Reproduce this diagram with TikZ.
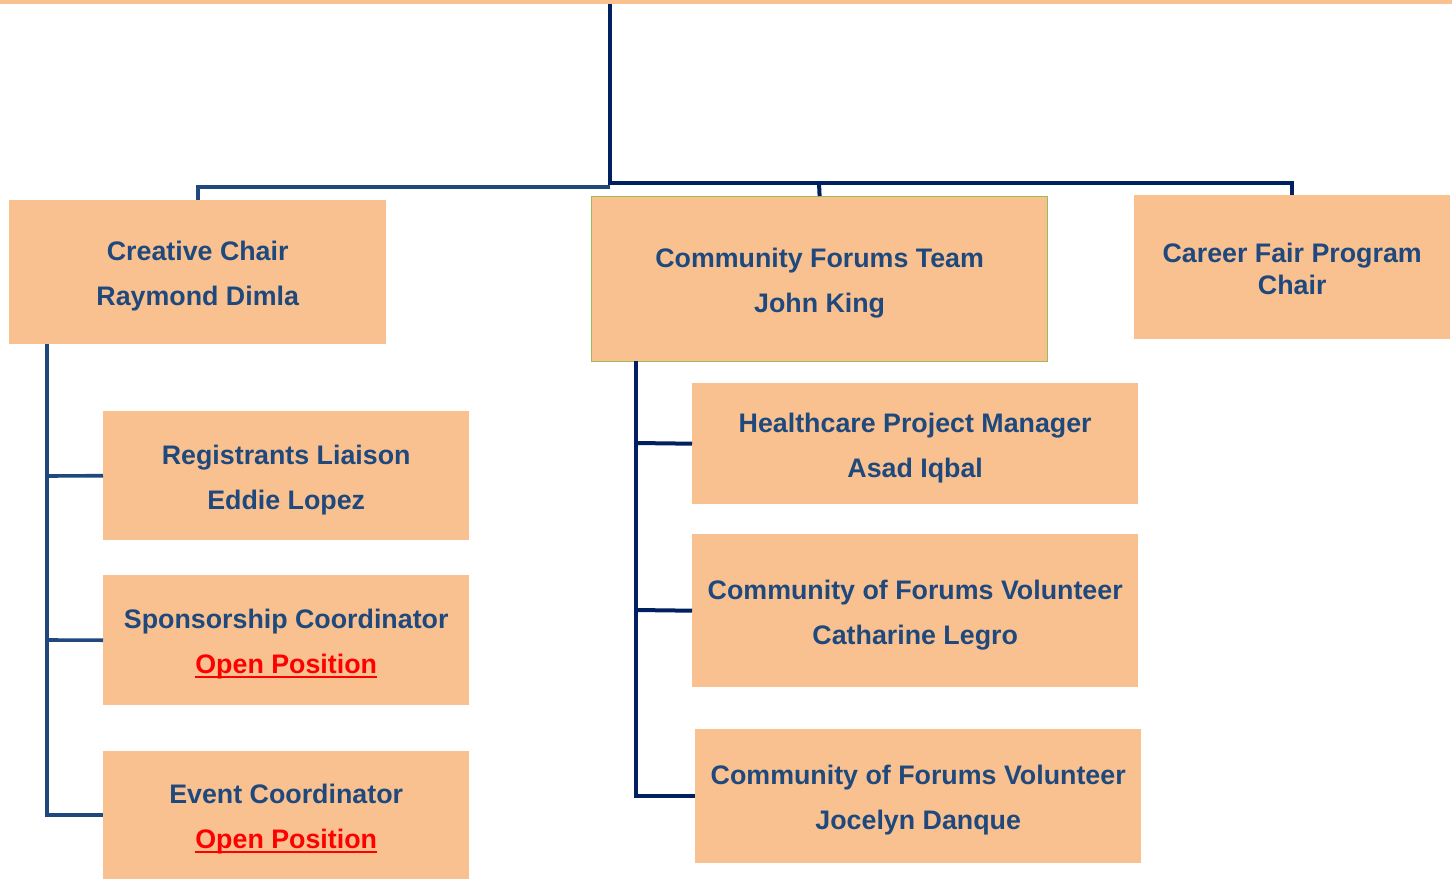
\documentclass[tikz,border=0pt]{standalone}
\usepackage{fontspec}
\setmainfont{Liberation Sans}
\definecolor{boxfill}{HTML}{F9C190}
\definecolor{txtblue}{HTML}{1F497D}
\definecolor{navy}{HTML}{002060}
\definecolor{lineblue}{HTML}{1F497D}
\definecolor{grborder}{HTML}{9BBB59}
\definecolor{openred}{HTML}{FF0000}
\newsavebox\opbox
\newcommand\openpos{\sbox\opbox{\color{openred}Open Position}{\color{openred}\rlap{\rule[-4pt]{\wd\opbox}{1.8pt}}}\usebox\opbox}
\newcommand\topstr{\rule{0pt}{28pt}}
\begin{document}
\begin{tikzpicture}[x=1pt,y=-1pt,
  orgbox/.style={fill=boxfill, draw=none, anchor=north west, inner sep=0pt,
    align=center, text=txtblue, font=\fontsize{26.8}{45}\selectfont\bfseries},
  navyline/.style={draw=navy, line width=4pt},
  blueline/.style={draw=lineblue, line width=3.6pt}]
\useasboundingbox (0,0) rectangle (1452,879);
\fill[boxfill] (0,0) rectangle (1452,4);
% top-level boxes
\node[orgbox, minimum width=377pt, minimum height=144pt] (cc) at (9,200) {\topstr Creative Chair\\Raymond Dimla};
\node[orgbox, draw=grborder, line width=1.2pt, minimum width=456pt, minimum height=165pt] (cft) at (591,196) {\topstr Community Forums Team\\John King};
\node[orgbox, minimum width=316pt, minimum height=144pt, font=\fontsize{26.8}{32}\selectfont\bfseries] (cfp) at (1134,195) {\rule{0pt}{22pt}Career Fair Program\\Chair};
% left children
\node[orgbox, minimum width=366pt, minimum height=129pt] (rl) at (103,411) {\topstr Registrants Liaison\\Eddie Lopez};
\node[orgbox, minimum width=366pt, minimum height=130pt] (sc) at (103,575) {\topstr Sponsorship Coordinator\\\openpos};
\node[orgbox, minimum width=366pt, minimum height=128pt] (ec) at (103,751) {\topstr Event Coordinator\\\openpos};
% right children
\node[orgbox, minimum width=446pt, minimum height=121pt] (hpm) at (692,383) {\topstr Healthcare Project Manager\\Asad Iqbal};
\node[orgbox, minimum width=446pt, minimum height=153pt] (v1) at (692,534) {\topstr Community of Forums Volunteer\\Catharine Legro};
\node[orgbox, minimum width=446pt, minimum height=134pt] (v2) at (695,729) {\topstr Community of Forums Volunteer\\Jocelyn Danque};
% top connectors
\coordinate (top) at (610,4);
\draw[navyline] (top) -- (610,183) -| (cfp.north);
\draw[navyline] (819,183) -- (cft.north);
\draw[blueline] (610,187) -| (cc.north);
% left tree
\draw[blueline] (47,344) |- (ec.west);
\draw[blueline] (47,476) -- (rl.west);
\draw[blueline] (47,640) -- (sc.west);
% right tree
\draw[navyline] (636,361) |- (v2.west);
\draw[navyline] (636,443) -- (hpm.west);
\draw[navyline] (636,610) -- (v1.west);
\end{tikzpicture}
\end{document}
